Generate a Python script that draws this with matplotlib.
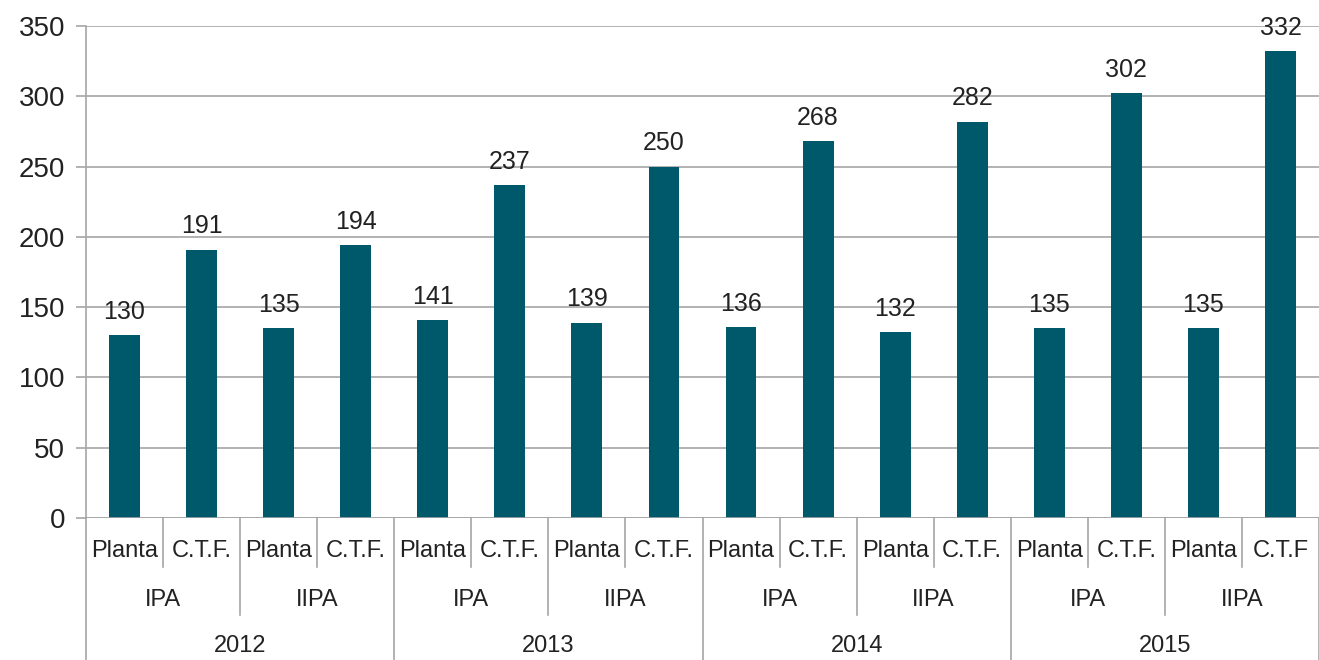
import matplotlib
matplotlib.use("Agg")
import matplotlib.pyplot as plt
import matplotlib.transforms as mtransforms

# data
years = ["2012", "2013", "2014", "2015"]
groups = ["IPA", "IIPA"]
bar_labels = ["Planta", "C.T.F.", "Planta", "C.T.F.",
              "Planta", "C.T.F.", "Planta", "C.T.F.",
              "Planta", "C.T.F.", "Planta", "C.T.F.",
              "Planta", "C.T.F.", "Planta", "C.T.F"]
values = [130, 191, 135, 194, 141, 237, 139, 250,
          136, 268, 132, 282, 135, 302, 135, 332]

bar_color = "#00586B"
grid_color = "#A6A6A6"
text_color = "#222222"

plt.rcParams["font.family"] = ["Liberation Sans", "DejaVu Sans"]

fig = plt.figure(figsize=(13.19, 6.60), dpi=100)
ax = fig.add_axes([86 / 1319, 142 / 660, 1 - 86 / 1319, 492 / 660])

x = list(range(len(values)))
ax.bar(x, values, width=0.4, color=bar_color, zorder=3)

for xi, v in zip(x, values):
    ax.annotate(str(v), (xi, v), xytext=(0, 8), textcoords="offset points",
                ha="center", va="bottom", fontsize=18, color=text_color)

ax.set_xlim(-0.5, len(values) - 0.5)
ax.set_ylim(0, 350)
ax.set_yticks(range(0, 351, 50))
ax.tick_params(axis="y", labelsize=20, colors=text_color, length=7,
               color=grid_color, width=1.2, pad=8)
ax.set_xticks([])
ax.grid(axis="y", color=grid_color, linewidth=1.2, zorder=0)
for s in ["top", "right", "bottom"]:
    ax.spines[s].set_visible(False)
ax.spines["left"].set_color(grid_color)
ax.spines["left"].set_linewidth(1.2)
ax.axhline(0, color=grid_color, linewidth=1.2, zorder=4)

# hierarchical category axis
ax_h = 492.0
trans = mtransforms.blended_transform_factory(ax.transData, ax.transAxes)

def vline(xpos, depth_px):
    ax.plot([xpos, xpos], [0, -depth_px / ax_h], transform=trans,
            color=grid_color, linewidth=1.2, clip_on=False)

n = len(values)
for b in range(n + 1):
    xb = b - 0.5
    if b % 4 == 0:
        vline(xb, 142)
    elif b % 2 == 0:
        vline(xb, 97)
    else:
        vline(xb, 49)

for i, lab in enumerate(bar_labels):
    ax.text(i, -33 / ax_h, lab, transform=trans, ha="center", va="center",
            fontsize=17, color=text_color)

for j in range(len(years) * len(groups)):
    ax.text(2 * j + 0.5, -82 / ax_h, groups[j % 2], transform=trans,
            ha="center", va="center", fontsize=17, color=text_color)

for k, yr in enumerate(years):
    ax.text(4 * k + 1.5, -128 / ax_h, yr, transform=trans,
            ha="center", va="center", fontsize=17, color=text_color)

fig.savefig("out.png", dpi=100)
plt.close(fig)
